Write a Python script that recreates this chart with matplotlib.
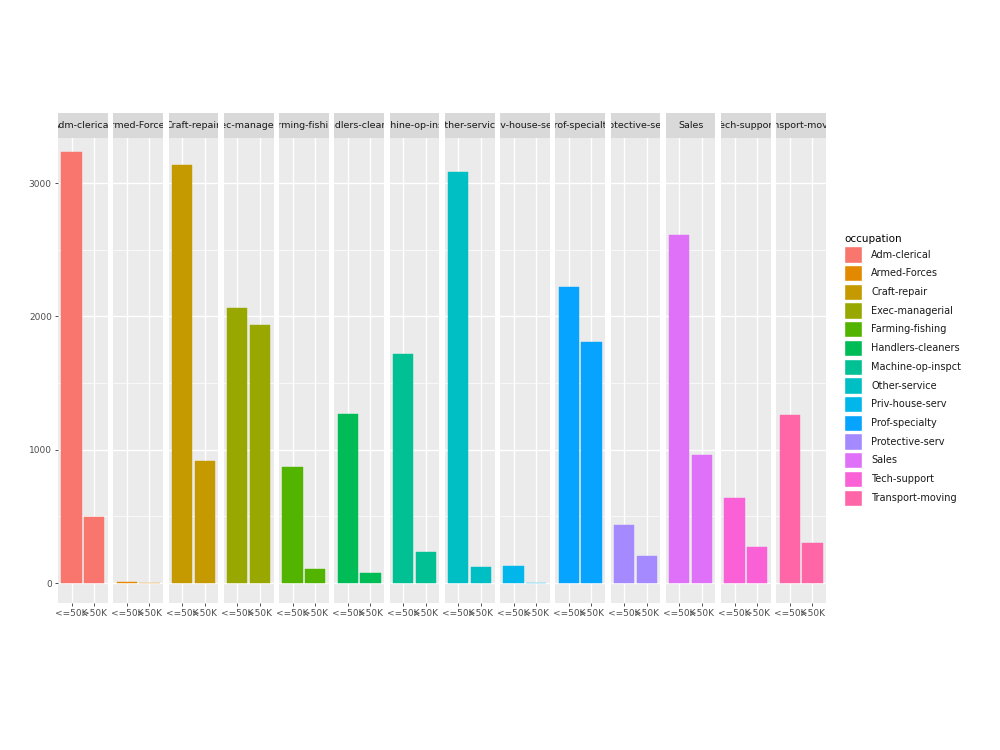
import matplotlib
matplotlib.use("Agg")
import matplotlib.pyplot as plt
from matplotlib.patches import Patch

# ── data: counts per occupation and income class ──────────────────
occupations = ["Adm-clerical", "Armed-Forces", "Craft-repair", "Exec-managerial",
               "Farming-fishing", "Handlers-cleaners", "Machine-op-inspct",
               "Other-service", "Priv-house-serv", "Prof-specialty",
               "Protective-serv", "Sales", "Tech-support", "Transport-moving"]
income = ["<=50K", ">50K"]
low_counts = [3230, 10, 3135, 2060, 867, 1266, 1718, 3082, 130, 2223, 432, 2607, 635, 1258]
high_counts = [497, 1, 912, 1937, 105, 75, 234, 120, 0, 1809, 205, 957, 271, 301]
colors = ["#F8766D", "#E38900", "#C49A00", "#99A800", "#53B400", "#00BC56", "#00C094",
          "#00BFC4", "#00B6EB", "#06A4FF", "#A58AFF", "#DF70F8", "#FB61D7", "#FF66A8"]
y_ticks = [0, 1000, 2000, 3000]

W, H = 1000, 750
fig = plt.figure(figsize=(10, 7.5), dpi=100)
fig.patch.set_facecolor("white")

def fx(px): return px / W
def fy(py): return 1 - py / H

left, right = 58, 826
top, bottom = 138, 603
strip_top = 113
n = len(occupations)
gap = 5.5
pw = (right - left - gap * (n - 1)) / n

for i, occ in enumerate(occupations):
    x0 = left + i * (pw + gap)
    ax = fig.add_axes([fx(x0), fy(bottom), pw / W, (bottom - top) / H])
    ax.set_facecolor("#EBEBEB")
    ax.set_xlim(0.4, 2.6)
    ax.set_ylim(-150, 3338)
    for y in [500, 1500, 2500]:
        ax.axhline(y, color="white", lw=0.5, zorder=0)
    for y in y_ticks:
        ax.axhline(y, color="white", lw=1.0, zorder=0)
    for x in [1, 2]:
        ax.axvline(x, color="white", lw=1.0, zorder=0)
    ax.bar([1, 2], [low_counts[i], high_counts[i]], width=0.9,
           color=colors[i], edgecolor=colors[i], lw=0.3, zorder=2)
    for s in ax.spines.values():
        s.set_visible(False)
    ax.set_xticks([1, 2])
    ax.set_xticklabels(income, fontsize=6.5, color="#4D4D4D")
    ax.tick_params(axis="x", length=2.5, width=0.6, color="#333333", pad=2)
    if i == 0:
        ax.set_yticks(y_ticks)
        ax.set_yticklabels([str(v) for v in y_ticks], fontsize=6.5, color="#4D4D4D")
        ax.tick_params(axis="y", length=2.5, width=0.6, color="#333333", pad=2)
    else:
        ax.set_yticks([])

    # facet strip, label clipped like ggplot does
    sax = fig.add_axes([fx(x0), fy(top), pw / W, (top - strip_top) / H])
    sax.set_facecolor("#D9D9D9")
    sax.set_xticks([]); sax.set_yticks([])
    for s in sax.spines.values():
        s.set_visible(False)
    sax.text(0.5, 0.5, occ, ha="center", va="center", fontsize=6.8,
             color="#1A1A1A", transform=sax.transAxes, clip_on=True)

handles = [Patch(facecolor=c, edgecolor="white", label=o) for o, c in zip(occupations, colors)]
leg = fig.legend(handles=handles, title="occupation", loc="upper left",
                 bbox_to_anchor=(fx(840), fy(230)), frameon=False, fontsize=7,
                 title_fontsize=7.5, handlelength=1.9, handleheight=2.2,
                 handletextpad=0.9, labelspacing=0.25, borderaxespad=0)
leg._legend_box.align = "left"
for t in leg.get_texts():
    t.set_color("#1A1A1A")

fig.savefig("out.png", dpi=100, facecolor="white")
